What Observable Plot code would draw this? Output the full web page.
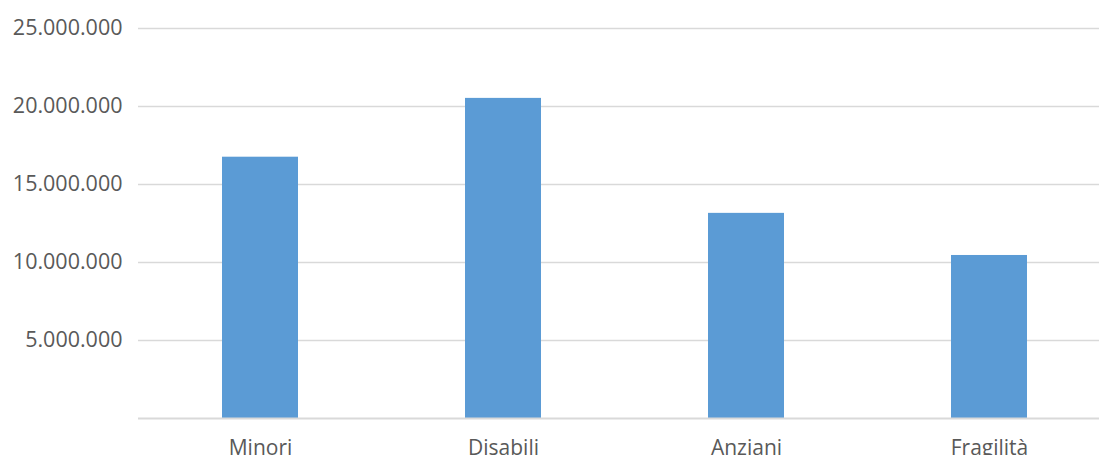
<!DOCTYPE html>
<html>
<head>
<meta charset="utf-8">
<script src="https://cdn.jsdelivr.net/npm/d3@7"></script>
<script src="https://cdn.jsdelivr.net/npm/@observablehq/plot@0.6"></script>
<style>
  html, body { margin: 0; padding: 0; background: #fff; overflow: hidden; }
  #chart svg { display: block; }
</style>
</head>
<body>
<div id="chart"></div>
<script>
const categories = ["Minori", "Disabili", "Anziani", "Fragilità"];
const values = [16750000, 20520000, 13150000, 10450000];
const yTicks = [5000000, 10000000, 15000000, 20000000, 25000000];

const data = categories.map((c, i) => ({category: c, value: values[i]}));
const fmt = d => d3.format(",")(d).replace(/,/g, ".");

const chart = Plot.plot({
  width: 1099,
  height: 455,
  marginTop: 28,
  marginBottom: 37,
  marginLeft: 138,
  marginRight: 0,
  style: {fontFamily: "'Open Sans', 'Noto Sans', sans-serif", fontSize: "20px", color: "#595959", background: "#fff"},
  x: {domain: categories, range: [139, 1111], paddingInner: 0.687, paddingOuter: 0.3435, label: null},
  y: {domain: [0, 25000000], range: [418, 28], label: null},
  marks: [
    Plot.ruleY(yTicks, {stroke: "#d9d9d9", strokeWidth: 1.5}),
    Plot.barY(data, {x: "category", y: "value", fill: "#5b9bd5"}),
    Plot.ruleY([0], {stroke: "#d9d9d9", strokeWidth: 2}),
    Plot.axisY(yTicks, {tickFormat: fmt, tickSize: 0, tickPadding: 16, fontSize: 21.5, fill: "#595959", label: null}),
    Plot.axisX({tickSize: 0, tickPadding: 14, fontSize: 21, fill: "#595959", label: null, textAnchor: "middle", dy: 8})
  ]
});
document.getElementById("chart").appendChild(chart);
</script>
</body>
</html>
